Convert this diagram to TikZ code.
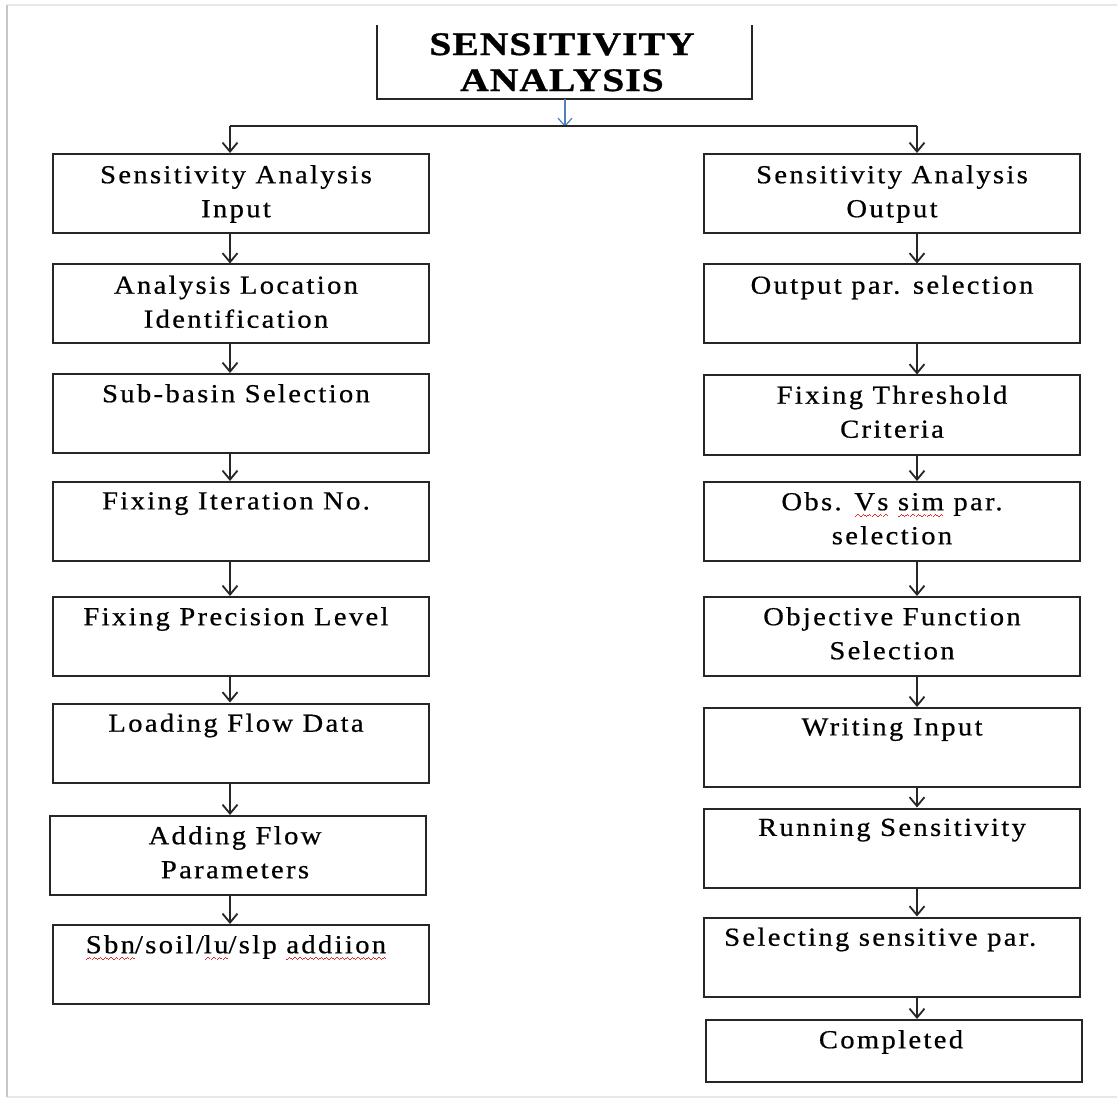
\documentclass[tikz,border=0pt]{standalone}
\usepackage{fontspec}
\usetikzlibrary{arrows.meta}
\setmainfont{Liberation Serif}[FakeStretch=1.1,LetterSpace=9,FakeBold=0.6]
\newfontfamily\headfont{Liberation Serif}[FakeStretch=1.2,LetterSpace=3,FakeBold=0.9]
\definecolor{linkblue}{RGB}{79,129,189}
\definecolor{spellred}{RGB}{230,40,40}
% red wavy underline for spell-checker marks, built from tiny rules
\newcommand\wavecell{\rule[0pt]{1.3pt}{1.4pt}\rule[1pt]{1.3pt}{1.4pt}\rule[2pt]{1.3pt}{1.4pt}\rule[1pt]{1.3pt}{1.4pt}}
\newsavebox\spellbox
\newcommand\spellmark[1]{\sbox\spellbox{#1}\rlap{\color{spellred}\lower7pt\hbox to\wd\spellbox{\xleaders\hbox{\wavecell}\hfil}}\usebox\spellbox}

\tikzset{
  stepbox/.style={draw=black!85, line width=2pt, minimum width=376pt,
    minimum height=79pt, inner sep=0pt},
  boxtext/.style={anchor=north, inner sep=0pt, align=center,
    font=\fontsize{26}{34}\selectfont},
  flow/.style={draw=black!85, line width=1.8pt,
    -{Straight Barb[length=9pt,width=15pt]}},
  frameline/.style={line width=1.5pt}
}

\begin{document}
\begin{tikzpicture}[x=1pt,y=-1pt]
\useasboundingbox (0,0) rectangle (1117,1099);
\fill[white] (0,0) rectangle (1117,1099);

% page frame
\draw[frameline, gray!18] (7,5) -- (1117,5);
\draw[frameline, gray!18] (7,1097) -- (1117,1097);
\draw[line width=2pt, gray!45] (7,5) -- (7,1097);

% title box, open at the top
\node[minimum width=375pt, minimum height=74pt, inner sep=0pt] (top) at (564.5,62) {};
\draw[black!85, line width=2pt] (top.north west) -- (top.south west) -- (top.south east) -- (top.north east);
\node[anchor=north, inner sep=0pt, align=center,
  font=\headfont\bfseries\fontsize{33}{36}\selectfont] (title) at (562,33)
  {SENSITIVITY\\ANALYSIS};

% split into the two branches
\coordinate (jl) at (230,126);
\coordinate (jr) at (917,126);
\coordinate (jm) at (565,127);
\draw[linkblue, line width=1.2pt, -{Straight Barb[length=8pt,width=14pt]}] (top.south -| jm) -- (jm);
\draw[black!85, line width=1.8pt] (jl) -- (jr);

% input branch
\node[stepbox] (L1) at (241,193.5) {};
\node[stepbox] (L2) at (241,304) {};
\node[stepbox] (L3) at (241,413.5) {};
\node[stepbox] (L4) at (241,521.5) {};
\node[stepbox] (L5) at (241,636.5) {};
\node[stepbox] (L6) at (241,743) {};
\node[stepbox] (L7) at (238,855.5) {};
\node[stepbox] (L8) at (241,964.5) {};

\node[boxtext] (L1t) at ([xshift=-5pt,yshift=-12pt]L1.north) {Sensitivity Analysis\\Input};
\node[boxtext] (L2t) at ([xshift=-5pt,yshift=-12pt]L2.north) {Analysis Location\\Identification};
\node[boxtext] (L3t) at ([xshift=-5pt,yshift=-11pt]L3.north) {Sub-basin Selection};
\node[boxtext] (L4t) at ([xshift=-5pt,yshift=-11pt]L4.north) {Fixing Iteration No.};
\node[boxtext] (L5t) at ([xshift=-5pt,yshift=-11pt]L5.north) {Fixing Precision Level};
\node[boxtext] (L6t) at ([xshift=-5pt,yshift=-11pt]L6.north) {Loading Flow Data};
\node[boxtext] (L7t) at ([xshift=-3pt,yshift=-11pt]L7.north) {Adding Flow\\Parameters};
\node[boxtext] (L8t) at ([xshift=-5pt,yshift=-11pt]L8.north)
  {\spellmark{Sbn}/soil/\spellmark{lu}/slp \spellmark{addiion}};

% output branch
\node[stepbox] (R1) at (892,193.5) {};
\node[stepbox] (R2) at (892,304) {};
\node[stepbox] (R3) at (892,415) {};
\node[stepbox] (R4) at (892,521.5) {};
\node[stepbox] (R5) at (892,636.5) {};
\node[stepbox] (R6) at (892,747.5) {};
\node[stepbox] (R7) at (892,848) {};
\node[stepbox] (R8) at (892,957) {};
\node[stepbox, minimum height=62pt] (R9) at (894,1051) {};

\node[boxtext] (R1t) at ([yshift=-12pt]R1.north) {Sensitivity Analysis\\Output};
\node[boxtext] (R2t) at ([yshift=-12pt]R2.north) {Output par. selection};
\node[boxtext] (R3t) at ([yshift=-11pt]R3.north) {Fixing Threshold\\Criteria};
\node[boxtext] (R4t) at ([yshift=-11pt]R4.north) {Obs. \spellmark{Vs} \spellmark{sim} par.\\selection};
\node[boxtext] (R5t) at ([yshift=-11pt]R5.north) {Objective Function\\Selection};
\node[boxtext] (R6t) at ([yshift=-11pt]R6.north) {Writing Input};
\node[boxtext] (R7t) at ([yshift=-11pt]R7.north) {Running Sensitivity};
\node[boxtext, anchor=north west] (R8t) at ([yshift=-11pt]R8.north west -| 724,0) {Selecting sensitive par.};
\node[boxtext] (R9t) at ([xshift=-3pt,yshift=-11pt]R9.north) {Completed};

% connectors
\draw[flow] (jl) -- (L1.north -| jl);
\draw[flow] (jr) -- (R1.north -| jr);
\foreach \a/\b in {L1/L2,L2/L3,L3/L4,L4/L5,L5/L6,L6/L7,L7/L8}
  \draw[flow] (\a.south -| jl) -- (\b.north -| jl);
\foreach \a/\b in {R1/R2,R2/R3,R3/R4,R4/R5,R5/R6,R6/R7,R7/R8,R8/R9}
  \draw[flow] (\a.south -| jr) -- (\b.north -| jr);
\end{tikzpicture}
\end{document}
